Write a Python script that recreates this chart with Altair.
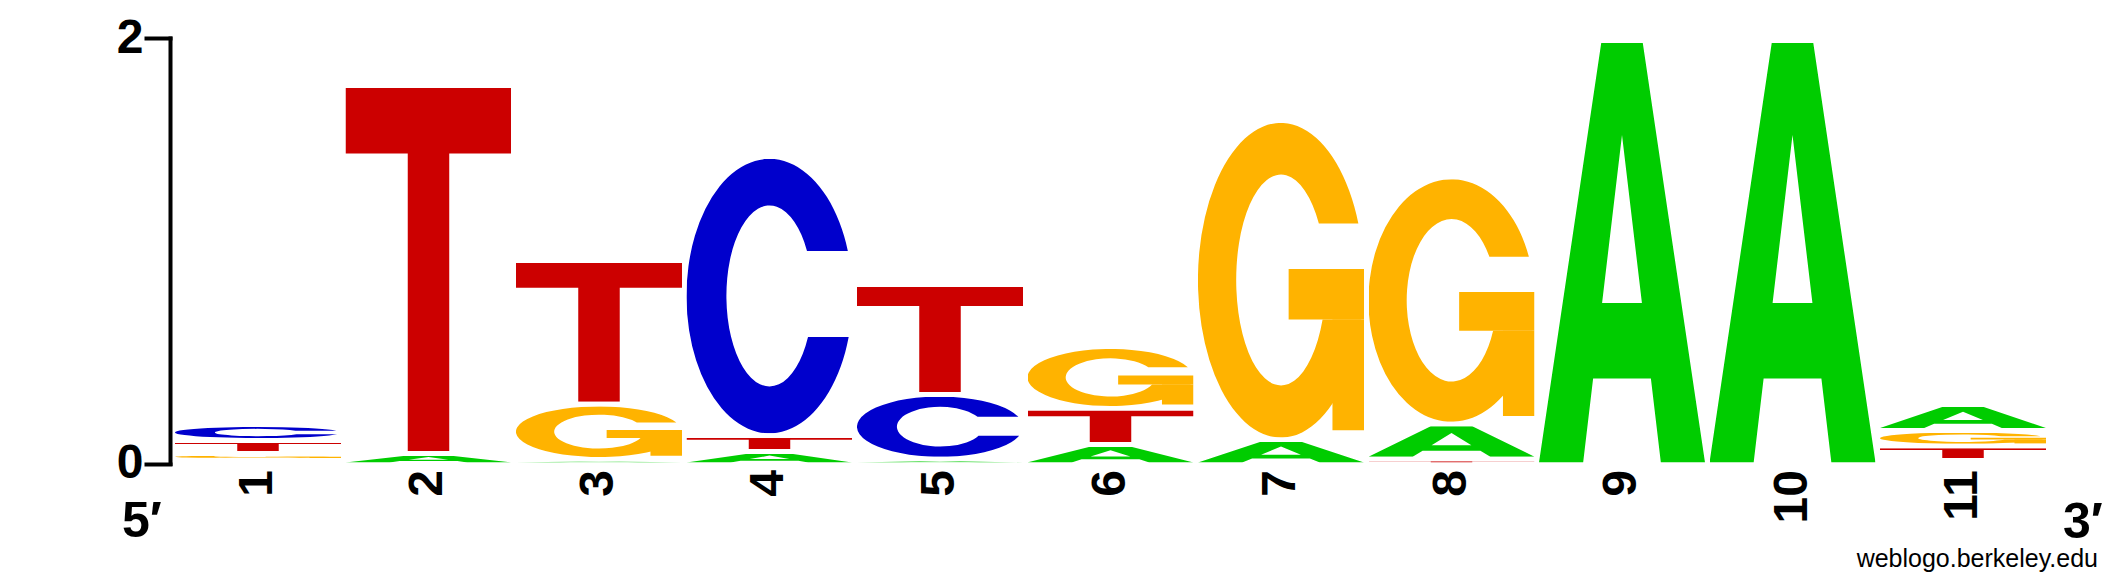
import base64

import altair as alt
import pandas as pd

# sequence logo, bits per base at each position
positions = list(range(1, 12))
bits_a = [0.021, 0.054, 0.026, 0.063, 0.027, 0.095, 0.118, 0.165, 1.994, 1.994, 0.120]
bits_c = [0.073, 0.0, 0.0, 1.311, 0.304, 0.0, 0.0, 0.0, 0.0, 0.0, 0.021]
bits_g = [0.033, 0.0, 0.259, 0.0, 0.0, 0.289, 1.500, 1.161, 0.0, 0.0, 0.074]
bits_t = [0.061, 1.727, 0.675, 0.075, 0.515, 0.171, 0.0, 0.027, 0.0, 0.0, 0.067]

y_ticks = [0, 1, 2]

COLORS = {"A": "#00cc00", "C": "#0000cc", "G": "#ffb300", "T": "#cc0000"}

# letter outlines in a 100x100 box, stretched by the image mark
GLYPHS = {
    "A": ["M0,100 L37.5,0 H62.5 L100,100 H73.4 L67.4,80 H32.6 L26.6,100 Z M50,22 L38,62 H62 Z"],
    "C": ["M97.2,33.6 A50,50 0 1 0 97.7,65 L73.2,65 A26,33 0 1 1 72.6,33.6 Z"],
    "G": [
        "M96.6,32 A50,50 0 1 0 98.4,62.5 L75.05,62.5 A27,33.5 0 1 1 72.8,32 Z",
        "M54.6,46.5 H100 V62.5 H54.6 Z",
        "M81,62.5 H100 V97.7 H81 Z",
    ],
    "T": ["M0,0 H100 V18 H62.5 V100 H37.5 V18 H0 Z"],
}


def glyph_url(base):
    paths = "".join(
        f'<path d="{d}" fill="{COLORS[base]}" fill-rule="evenodd"/>' for d in GLYPHS[base]
    )
    svg = (
        '<svg xmlns="http://www.w3.org/2000/svg" width="100" height="100" '
        f'viewBox="0 0 100 100" preserveAspectRatio="none">{paths}</svg>'
    )
    return "data:image/svg+xml;base64," + base64.b64encode(svg.encode()).decode()


heights = {"A": bits_a, "C": bits_c, "G": bits_g, "T": bits_t}
rows = []
for i, p in enumerate(positions):
    # smallest at the bottom, as weblogo stacks them
    stack = sorted((h[i], b) for b, h in heights.items() if h[i] > 0)
    level = 0.0
    for h, b in stack:
        rows.append({"pos": p, "base": b, "bottom": level, "top": level + h, "url": glyph_url(b)})
        level += h
frame = pd.DataFrame(rows)

FONT = "Liberation Sans"

letters = (
    alt.Chart(frame)
    .mark_image(aspect=False, yOffset=-1, y2Offset=3.5)
    .encode(
        x=alt.X(
            "pos:O",
            scale=alt.Scale(type="band", paddingInner=0.0264, paddingOuter=0.0293),
            axis=alt.Axis(
                title=None,
                labelAngle=270,
                ticks=False,
                domain=False,
                labelFont=FONT,
                labelFontSize=48,
                labelFontWeight="bold",
                labelColor="black",
                labelPadding=6,
                labelAlign="right",
                labelBaseline="middle",
            ),
        ),
        y=alt.Y(
            "bottom:Q",
            scale=alt.Scale(domain=[0, 2], nice=False),
            axis=alt.Axis(
                title=None,
                values=y_ticks,
                format="d",
                grid=False,
                labelFont=FONT,
                labelFontSize=48,
                labelFontWeight="bold",
                labelColor="black",
                labelPadding=3,
                labelFlush=False,
                tickSize=24,
                tickWidth=4,
                tickColor="black",
                tickCap="square",
                domainColor="black",
                domainWidth=4,
                domainCap="square",
            ),
        ),
        y2="top:Q",
        url="url:N",
    )
)


def note(text, x, y, size, weight, align):
    return (
        alt.Chart(pd.DataFrame({"t": [text]}))
        .mark_text(font=FONT, fontSize=size, fontWeight=weight, align=align,
                   baseline="alphabetic", color="black")
        .encode(text="t:N", x=alt.value(x), y=alt.value(y))
    )


five_prime = note("5′", -48, 499, 50, "bold", "left")
three_prime = note("3′", 1893, 500, 50, "bold", "left")
credit = note("weblogo.berkeley.edu", 1928, 529, 25, "normal", "right")

chart = (
    alt.layer(letters, five_prime, three_prime, credit)
    .properties(
        width=1881,
        height=425.5,
        padding={"left": 162, "top": 30, "right": 62, "bottom": 108.5},
        autosize=alt.AutoSizeParams(type="none"),
    )
    .configure_view(strokeWidth=0)
)

chart.save("out.html", embed_options={"renderer": "svg", "actions": False})
